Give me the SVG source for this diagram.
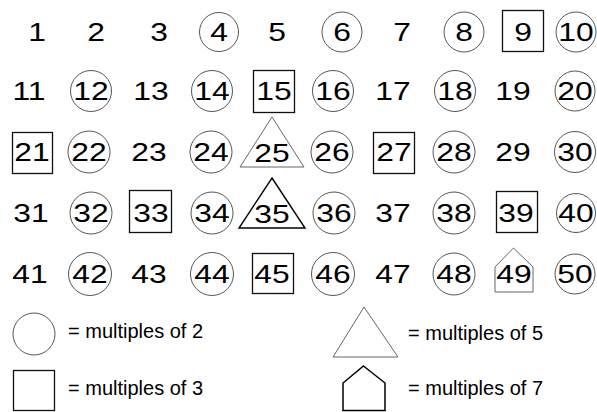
<svg xmlns="http://www.w3.org/2000/svg" width="597" height="412" viewBox="0 0 597 412">
<style>
text{font-family:"Liberation Sans",Arial,Helvetica,sans-serif;fill:#000}
.n{font-size:26.5px;text-anchor:middle}
.l{font-size:20px}
.c{fill:none;stroke:#444;stroke-width:0.9}
.s{fill:none;stroke:#111;stroke-width:1.3}
.t{fill:none;stroke:#555;stroke-width:0.9}
.tb{fill:none;stroke:#000;stroke-width:1.4}
.h{fill:none;stroke:#555;stroke-width:0.9}
.hb{fill:none;stroke:#000;stroke-width:1.5}
</style>
<rect width="597" height="412" fill="#fff"/>
<g id="grid">
<g id="n1"><text class="n" transform="translate(37 41) scale(1.2 1)">1</text></g>
<g id="n2"><text class="n" transform="translate(96 41) scale(1.2 1)">2</text></g>
<g id="n3"><text class="n" transform="translate(159 41) scale(1.2 1)">3</text></g>
<g id="n4"><circle class="c" cx="219" cy="32" r="19.5"/><text class="n" transform="translate(219 41) scale(1.2 1)">4</text></g>
<g id="n5"><text class="n" transform="translate(277 41) scale(1.2 1)">5</text></g>
<g id="n6"><circle class="c" cx="342" cy="32" r="20"/><text class="n" transform="translate(342 41) scale(1.2 1)">6</text></g>
<g id="n7"><text class="n" transform="translate(402 41) scale(1.2 1)">7</text></g>
<g id="n8"><circle class="c" cx="464" cy="32" r="20"/><text class="n" transform="translate(464 41) scale(1.2 1)">8</text></g>
<g id="n9"><rect class="s" x="502.5" y="10.5" width="41" height="41"/><text class="n" transform="translate(523 41) scale(1.2 1)">9</text></g>
<g id="n10"><circle class="c" cx="576" cy="32" r="20"/><text class="n" transform="translate(576 41) scale(1.2 1)">10</text></g>

<g id="n11"><text class="n" transform="translate(29 100) scale(1.2 1)">11</text></g>
<g id="n12"><circle class="c" cx="91" cy="91" r="20.5"/><text class="n" transform="translate(91 100) scale(1.2 1)">12</text></g>
<g id="n13"><text class="n" transform="translate(151 100) scale(1.2 1)">13</text></g>
<g id="n14"><circle class="c" cx="212" cy="91" r="20.5"/><text class="n" transform="translate(212 100) scale(1.2 1)">14</text></g>
<g id="n15"><rect class="s" x="253.5" y="70.5" width="41" height="42"/><text class="n" transform="translate(274 100) scale(1.2 1)">15</text></g>
<g id="n16"><circle class="c" cx="333" cy="91" r="20.5"/><text class="n" transform="translate(333 100) scale(1.2 1)">16</text></g>
<g id="n17"><text class="n" transform="translate(393 100) scale(1.2 1)">17</text></g>
<g id="n18"><circle class="c" cx="455" cy="91" r="20.5"/><text class="n" transform="translate(455 100) scale(1.2 1)">18</text></g>
<g id="n19"><text class="n" transform="translate(513 100) scale(1.2 1)">19</text></g>
<g id="n20"><circle class="c" cx="575" cy="91" r="20"/><text class="n" transform="translate(575 100) scale(1.2 1)">20</text></g>

<g id="n21"><rect class="s" x="12.5" y="132.5" width="40" height="41"/><text class="n" transform="translate(32 161) scale(1.2 1)">21</text></g>
<g id="n22"><circle class="c" cx="89" cy="152" r="21"/><text class="n" transform="translate(89 161) scale(1.2 1)">22</text></g>
<g id="n23"><text class="n" transform="translate(149 161) scale(1.2 1)">23</text></g>
<g id="n24"><circle class="c" cx="211" cy="152" r="21"/><text class="n" transform="translate(211 161) scale(1.2 1)">24</text></g>
<g id="n25"><polygon class="t" points="272,117 304,167 240,167"/><text class="n" transform="translate(272 162) scale(1.2 1)">25</text></g>
<g id="n26"><circle class="c" cx="332" cy="152" r="21"/><text class="n" transform="translate(332 161) scale(1.2 1)">26</text></g>
<g id="n27"><rect class="s" x="373.5" y="132.5" width="41" height="41"/><text class="n" transform="translate(394 161) scale(1.2 1)">27</text></g>
<g id="n28"><circle class="c" cx="454" cy="152" r="21"/><text class="n" transform="translate(454 161) scale(1.2 1)">28</text></g>
<g id="n29"><text class="n" transform="translate(513 161) scale(1.2 1)">29</text></g>
<g id="n30"><circle class="c" cx="575" cy="152" r="20.5"/><text class="n" transform="translate(575 161) scale(1.2 1)">30</text></g>

<g id="n31"><text class="n" transform="translate(31 222) scale(1.2 1)">31</text></g>
<g id="n32"><circle class="c" cx="91" cy="213" r="21"/><text class="n" transform="translate(91 222) scale(1.2 1)">32</text></g>
<g id="n33"><rect class="s" x="129.5" y="190.5" width="42" height="42"/><text class="n" transform="translate(151 222) scale(1.2 1)">33</text></g>
<g id="n34"><circle class="c" cx="212" cy="213" r="21"/><text class="n" transform="translate(212 222) scale(1.2 1)">34</text></g>
<g id="n35"><polygon class="tb" points="272,178 305,228 239,228"/><text class="n" transform="translate(272 223) scale(1.2 1)">35</text></g>
<g id="n36"><circle class="c" cx="334" cy="213" r="21"/><text class="n" transform="translate(334 222) scale(1.2 1)">36</text></g>
<g id="n37"><text class="n" transform="translate(393 222) scale(1.2 1)">37</text></g>
<g id="n38"><circle class="c" cx="454" cy="213" r="21"/><text class="n" transform="translate(454 222) scale(1.2 1)">38</text></g>
<g id="n39"><rect class="s" x="496.5" y="191.5" width="41" height="41"/><text class="n" transform="translate(516 222) scale(1.2 1)">39</text></g>
<g id="n40"><circle class="c" cx="576" cy="213" r="19.5"/><text class="n" transform="translate(576 222) scale(1.2 1)">40</text></g>

<g id="n41"><text class="n" transform="translate(30 283) scale(1.2 1)">41</text></g>
<g id="n42"><circle class="c" cx="90" cy="274" r="21.5"/><text class="n" transform="translate(90 283) scale(1.2 1)">42</text></g>
<g id="n43"><text class="n" transform="translate(149 283) scale(1.2 1)">43</text></g>
<g id="n44"><circle class="c" cx="212" cy="274" r="21.5"/><text class="n" transform="translate(212 283) scale(1.2 1)">44</text></g>
<g id="n45"><rect class="s" x="252.5" y="253.5" width="41" height="40"/><text class="n" transform="translate(272 283) scale(1.2 1)">45</text></g>
<g id="n46"><circle class="c" cx="333" cy="274" r="21.5"/><text class="n" transform="translate(333 283) scale(1.2 1)">46</text></g>
<g id="n47"><text class="n" transform="translate(393 283) scale(1.2 1)">47</text></g>
<g id="n48"><circle class="c" cx="454" cy="274" r="21"/><text class="n" transform="translate(454 283) scale(1.2 1)">48</text></g>
<g id="n49"><polygon class="h" points="513.5,248 533,267 533,292 495,292 495,267"/><text class="n" transform="translate(514 283) scale(1.2 1)">49</text></g>
<g id="n50"><circle class="c" cx="575" cy="274" r="20"/><text class="n" transform="translate(575 283) scale(1.2 1)">50</text></g>
</g>
<g id="legend">
<g id="key2"><circle class="c" cx="34" cy="334" r="21"/><text class="l" x="68" y="338">= multiples of 2</text></g>
<g id="key3"><rect class="s" x="13.5" y="370.5" width="41" height="40"/><text class="l" x="68" y="395">= multiples of 3</text></g>
<g id="key5"><polygon class="t" points="364,307 398,357 333,357"/><text class="l" x="408" y="340">= multiples of 5</text></g>
<g id="key7"><polygon class="hb" points="363.5,366 385,383 385,410.5 343,410.5 343,383"/><text class="l" x="408" y="395">= multiples of 7</text></g>
</g>
</svg>
